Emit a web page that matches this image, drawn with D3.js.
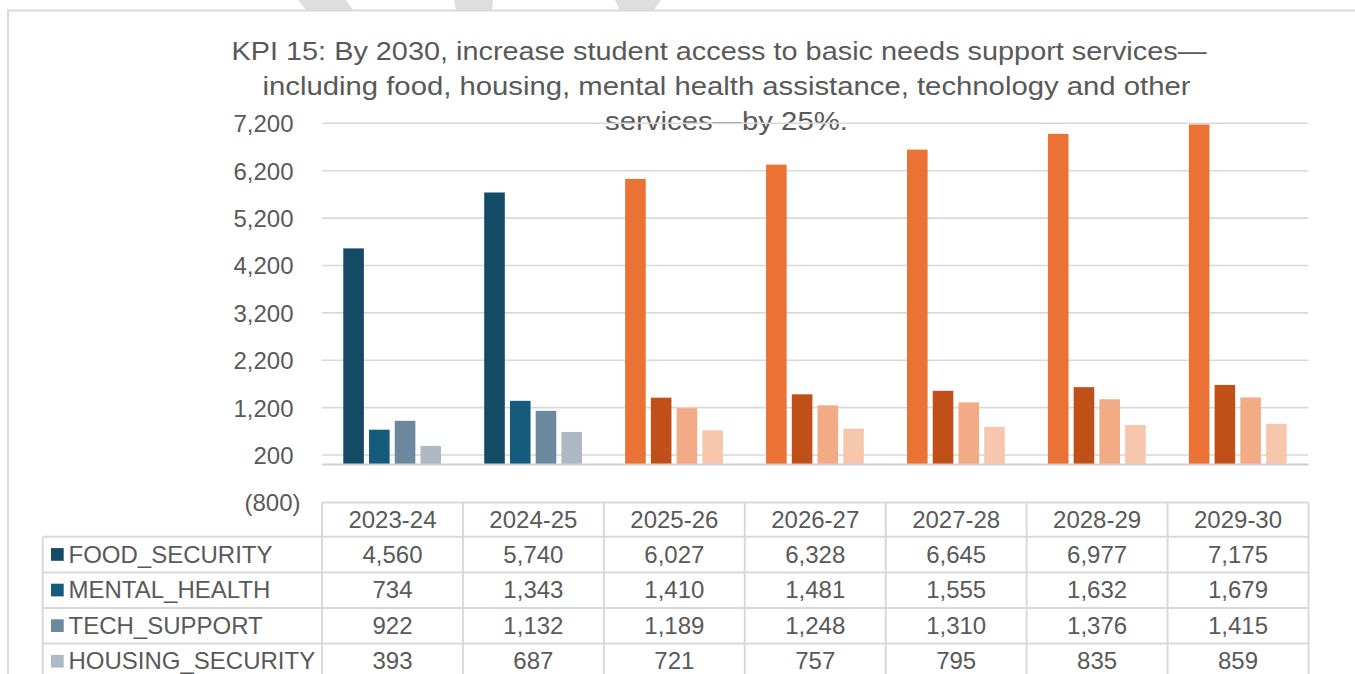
<!DOCTYPE html>
<html>
<head>
<meta charset="utf-8">
<script src="https://cdn.jsdelivr.net/npm/d3@7"></script>
<style>
  html, body { margin: 0; padding: 0; background: #fff; }
  svg { display: block; font-family: "Liberation Sans", Arial, sans-serif; }
</style>
</head>
<body>
<svg id="chart" width="1355" height="674"></svg>
<script>
// ---- data ----
const categories = ["2023-24", "2024-25", "2025-26", "2026-27", "2027-28", "2028-29", "2029-30"];
const seriesNames = ["FOOD_SECURITY", "MENTAL_HEALTH", "TECH_SUPPORT", "HOUSING_SECURITY"];
const foodSecurity = [4560, 5740, 6027, 6328, 6645, 6977, 7175];
const mentalHealth = [734, 1343, 1410, 1481, 1555, 1632, 1679];
const techSupport = [922, 1132, 1189, 1248, 1310, 1376, 1415];
const housingSecurity = [393, 687, 721, 757, 795, 835, 859];
const yTicks = [-800, 200, 1200, 2200, 3200, 4200, 5200, 6200, 7200];
const actualCount = 2; // first two years are actuals (blue), rest projected (orange)
const titleLines = [
  "KPI 15: By 2030, increase student access to basic needs support services\u2014",
  "including food, housing, mental health assistance, technology and other",
  "services\u2014by 25%."
];

const seriesValues = [foodSecurity, mentalHealth, techSupport, housingSecurity];
const blueColors = ["#134a66", "#155b7b", "#6c889c", "#aeb9c4"];
const orangeColors = ["#e97234", "#c05017", "#f2ab85", "#f6c7ad"];

// ---- layout ----
const svg = d3.select("#chart");
const W = 1355, H = 674;
const plotLeft = 322, plotRight = 1308.5;
const textColor = "#595959";
const lineColor = "#d9d9d9";
const fs = 24;

// watermark fragments (behind chart)
const wm = [
  [[298,0],[346,0],[354,11],[307,11]],
  [[454,0],[493,0],[492,11],[456,11]],
  [[615,0],[661,0],[653,11],[620,11]]
];
svg.selectAll("polygon.wm").data(wm).enter().append("polygon")
  .attr("class", "wm")
  .attr("points", d => d.map(p => p.join(",")).join(" "))
  .attr("fill", "#dedede");

// chart frame
svg.append("rect").attr("x", 8).attr("y", 10.5).attr("width", W).attr("height", H)
  .attr("fill", "#fff").attr("stroke", lineColor).attr("stroke-width", 2);

// title (reference title is set wider than plain Arial)
const titleStarts = [231.5, 262.5, 605];
const titleWidths = [975, 928, 243];
svg.append("g").selectAll("text").data(titleLines).enter().append("text")
  .attr("x", (d, i) => titleStarts[i]).attr("y", (d, i) => 60 + i * 35)
  .attr("fill", textColor)
  .attr("font-size", 25)
  .attr("textLength", (d, i) => titleWidths[i])
  .attr("lengthAdjust", "spacingAndGlyphs")
  .text(d => d);

// scales
const y = d3.scaleLinear().domain([-800, 7200]).range([502.4, 123.3]);
const x0 = d3.scaleBand().domain(categories).range([plotLeft, plotRight]).padding(0);
const bw0 = x0.bandwidth();
const x1 = d3.scaleBand().domain(seriesNames)
  .range([bw0 * 0.151, bw0 * 0.845]).paddingInner(0.2).paddingOuter(0);

// gridlines
const gridVals = yTicks.filter(v => v > -800);
svg.append("g").selectAll("line").data(gridVals).enter().append("line")
  .attr("x1", plotLeft).attr("x2", plotRight)
  .attr("y1", d => y(d)).attr("y2", d => y(d))
  .attr("stroke", lineColor).attr("stroke-width", 1.6);

// y axis labels
const yAxis = d3.axisLeft(y).tickValues(yTicks).tickSize(0).tickPadding(0)
  .tickFormat(v => v < 0 ? "(" + d3.format(",")(-v) + ")" : d3.format(",")(v));
const gy = svg.append("g").attr("transform", "translate(293.5,0)").call(yAxis);
gy.select(".domain").remove();
gy.selectAll("text").attr("fill", textColor).attr("font-size", fs)
  .attr("font-family", "Liberation Sans, Arial, sans-serif")
  .attr("dy", "0.35em")
  .attr("dx", d => d < 0 ? 7 : 0);

// bars
const barData = [];
categories.forEach((c, ci) => {
  seriesNames.forEach((s, si) => {
    barData.push({ cat: c, ci, series: s, si, value: seriesValues[si][ci] });
  });
});
svg.append("g").selectAll("rect").data(barData).enter().append("rect")
  .attr("x", d => x0(d.cat) + x1(d.series))
  .attr("width", x1.bandwidth())
  .attr("y", d => y(Math.max(0, d.value)))
  .attr("height", d => Math.abs(y(d.value) - y(0)))
  .attr("fill", d => d.ci < actualCount ? blueColors[d.si] : orangeColors[d.si]);

// zero line
svg.append("line").attr("x1", plotLeft).attr("x2", plotRight)
  .attr("y1", y(0)).attr("y2", y(0))
  .attr("stroke", "#d0d0d0").attr("stroke-width", 2);

// ---- data table ----
const tableTop = y(-800);
const headerH = 34.4;
const rowH = 35.6;
const labelLeft = 42.7;
const tg = svg.append("g");
const rowTops = seriesNames.map((s, i) => tableTop + headerH + i * rowH);
const tableBottom = tableTop + headerH + seriesNames.length * rowH;

// horizontal lines
tg.append("line").attr("x1", plotLeft).attr("x2", plotRight)
  .attr("y1", tableTop).attr("y2", tableTop)
  .attr("stroke", lineColor).attr("stroke-width", 2);
tg.selectAll("line.h").data(rowTops).enter().append("line").attr("class", "h")
  .attr("x1", labelLeft).attr("x2", plotRight)
  .attr("y1", d => d).attr("y2", d => d)
  .attr("stroke", lineColor).attr("stroke-width", 2);
// vertical lines
const colEdges = categories.map(c => x0(c)).concat([plotRight]);
tg.selectAll("line.v").data(colEdges).enter().append("line").attr("class", "v")
  .attr("x1", d => d).attr("x2", d => d)
  .attr("y1", tableTop).attr("y2", tableBottom + 20)
  .attr("stroke", lineColor).attr("stroke-width", 2);
tg.append("line").attr("x1", labelLeft).attr("x2", labelLeft)
  .attr("y1", rowTops[0]).attr("y2", tableBottom + 20)
  .attr("stroke", lineColor).attr("stroke-width", 2);

// header labels
tg.selectAll("text.hdr").data(categories).enter().append("text").attr("class", "hdr")
  .attr("x", d => x0(d) + bw0 / 2)
  .attr("y", tableTop + headerH / 2 + 8)
  .attr("text-anchor", "middle").attr("fill", textColor).attr("font-size", fs)
  .text(d => d);

// row labels with legend keys
seriesNames.forEach((s, si) => {
  const cy = rowTops[si] + rowH / 2;
  tg.append("rect").attr("x", 51).attr("y", cy - 6.5).attr("width", 12.7).attr("height", 12.7)
    .attr("fill", blueColors[si]);
  tg.append("text").attr("x", 68.5).attr("y", cy + 8)
    .attr("fill", textColor).attr("font-size", fs).text(s);
  tg.selectAll("text.v" + si).data(seriesValues[si]).enter().append("text")
    .attr("class", "v" + si)
    .attr("x", (d, ci) => x0(categories[ci]) + bw0 / 2)
    .attr("y", cy + 8)
    .attr("text-anchor", "middle").attr("fill", textColor).attr("font-size", fs)
    .text(d => d3.format(",")(d));
});
</script>
</body>
</html>
